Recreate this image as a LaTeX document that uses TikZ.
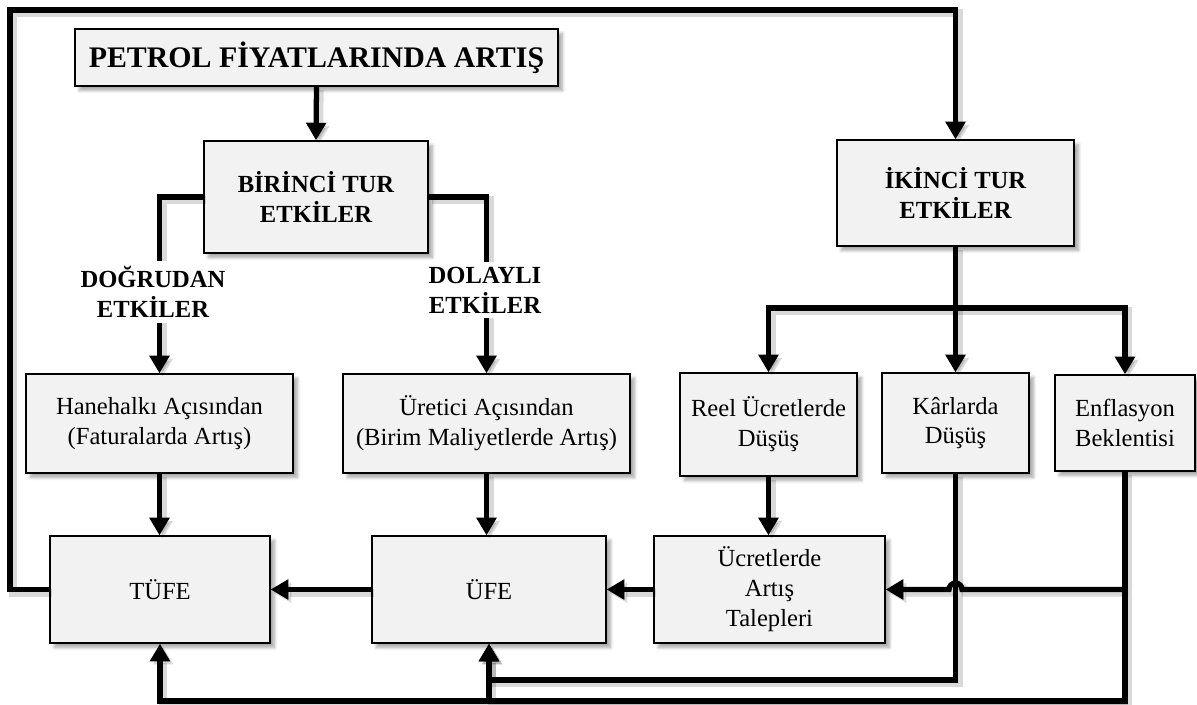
\documentclass[tikz,border=0pt]{standalone}
\usepackage{fontspec}
\setmainfont{Liberation Serif}
\usetikzlibrary{arrows.meta,positioning,shadows.blur}
\definecolor{boxgray}{HTML}{F2F2F2}

\begin{document}
\begin{tikzpicture}[x=0.02cm, y=-0.02cm, every node/.style={font=\fontsize{14}{17}\selectfont}]
\tikzset{box/.style={draw, line width=0.8pt, fill=boxgray, align=center, inner sep=2pt, blur shadow={shadow xshift=2.5pt, shadow yshift=-2.5pt, shadow opacity=35, shadow blur steps=6}}}
\tikzset{shade line/.style={preaction={draw, black, opacity=0.15, line width=4.5pt, transform canvas={shift={(1.8pt,-1.8pt)}}}}}
\tikzset{arrow/.style={-{Triangle[length=10pt, width=11pt]}, line width=3pt, shade line}}
\tikzset{line/.style={line width=3pt, shade line}}
\tikzset{lbl/.style={fill=white, align=center, font=\fontsize{14}{17}\selectfont\bfseries, inner sep=3pt}}
\useasboundingbox (0,0) rectangle (1197,704);
\node[box, minimum width=9.66cm, minimum height=1.14cm, font=\fontsize{17}{20}\selectfont\bfseries] (petrol) at (316.5,57.5) {PETROL FİYATLARINDA ARTIŞ};
\node[box, minimum width=4.48cm, minimum height=2.24cm, font=\fontsize{14}{17}\selectfont\bfseries] (birinci) at (316,197) {BİRİNCİ TUR\\ETKİLER};
\node[box, minimum width=4.74cm, minimum height=2.12cm, font=\fontsize{14}{17}\selectfont\bfseries] (ikinci) at (955.5,193) {İKİNCİ TUR\\ETKİLER};
\node[box, minimum width=5.34cm, minimum height=1.98cm] (hane) at (159.5,423.5) {Hanehalkı Açısından\\(Faturalarda Artış)};
\node[box, minimum width=5.74cm, minimum height=1.98cm] (uret) at (486.5,423.5) {Üretici Açısından\\(Birim Maliyetlerde Artış)};
\node[box, minimum width=3.54cm, minimum height=2.06cm] (reel) at (768.5,424.5) {Reel Ücretlerde\\Düşüş};
\node[box, minimum width=2.94cm, minimum height=2cm] (kar) at (955.5,423) {Kârlarda\\Düşüş};
\node[box, minimum width=2.8cm, minimum height=1.92cm] (enf) at (1125,423) {Enflasyon\\Beklentisi};
\node[box, minimum width=4.4cm, minimum height=2.14cm] (tufe) at (160,589.5) {TÜFE};
\node[box, minimum width=4.68cm, minimum height=2.14cm] (ufe) at (489,589.5) {ÜFE};
\node[box, minimum width=4.62cm, minimum height=2.14cm] (ucret) at (769.5,589.5) {Ücretlerde\\Artış\\Talepleri};
\coordinate (corner) at (10,10);
\coordinate (split) at (955.5,308);
\coordinate (kb) at (955.5,680);
\coordinate (eb) at (1125,701);
\path (kar.south |- ucret.east) coordinate (cross);
\path (enf.south |- ucret.east) coordinate (ej);
\draw[arrow] (petrol.south) -- (birinci.north);
\draw[arrow] (birinci.west) -| (hane.north);
\draw[arrow] (birinci.east) -| (uret.north);
\draw[arrow] (hane.south) -- (hane.south |- tufe.north);
\draw[arrow] (uret.south) -- (uret.south |- ufe.north);
\draw[arrow] (ufe.west) -- (tufe.east);
\draw[arrow] (ucret.west) -- (ufe.east);
\draw[arrow] (tufe.west) -| (corner) -| (ikinci.north);
\draw[line] (ikinci.south) -- (split);
\draw[arrow] (split) -| (reel.north);
\draw[arrow] (split) -- (kar.north);
\draw[arrow] (split) -| (enf.north);
\draw[arrow] (reel.south) -- (reel.south |- ucret.north);
\draw[arrow] (kar.south) -- (kb) -| (ufe.south);
\draw[arrow] (enf.south) -- (eb) -| (tufe.south);
\draw[arrow] (eb) -| (ufe.south);
\draw[arrow] (ej) -- ([xshift=0.13cm]cross) arc[start angle=0, end angle=180, radius=0.13cm] -- (ucret.east);
\node[lbl] (dogrudan) at (153,292) {DOĞRUDAN\\ETKİLER};
\node[lbl] (dolayli) at (485,290) {DOLAYLI\\ETKİLER};
\end{tikzpicture}
\end{document}
